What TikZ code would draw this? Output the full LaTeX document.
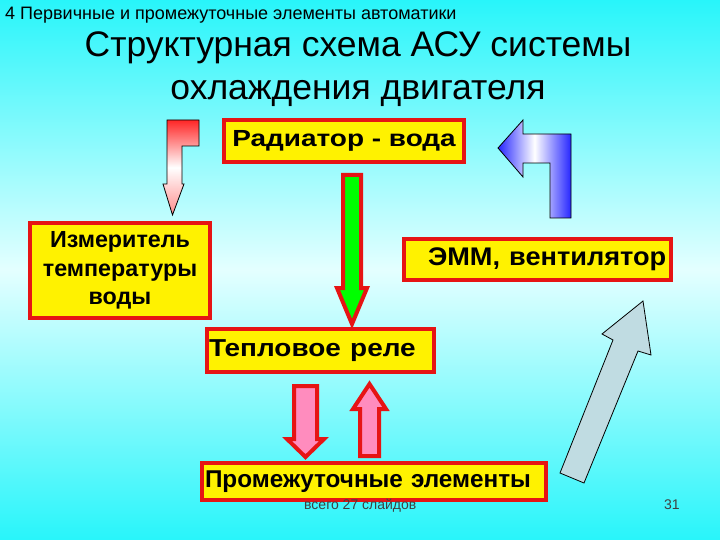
\documentclass[tikz,border=0pt]{standalone}
\usepackage{fontspec}
\setmainfont{Liberation Sans}
\newcommand{\stretchx}[2]{\scalebox{#1}[1]{#2}}
\begin{document}
\begin{tikzpicture}[x=1pt,y=-1pt,
  box/.style={draw=boxred, line width=4pt, fill=yellow, inner sep=2pt, font=\fontsize{24}{28}\selectfont\bfseries},
  redarrow/.style={draw=boxred, line width=4pt, fill=pinkfill, line join=miter},
  every node/.style={inner sep=0pt}]
\definecolor{boxred}{RGB}{230,20,20}
\definecolor{pinkfill}{RGB}{255,140,190}
\definecolor{bgcyan}{RGB}{40,245,250}
\definecolor{bglight}{RGB}{228,255,255}
\definecolor{arrowgray}{RGB}{192,220,226}
\useasboundingbox (0,0) rectangle (720,540);
\shade[top color=bgcyan, bottom color=bgcyan, middle color=bglight] (0,0) rectangle (720,540);

% header and title
\node[anchor=base west, font=\fontsize{18}{21}\selectfont] (hdr) at (5,20) {4 Первичные и промежуточные элементы автоматики};
\node[align=center, font=\fontsize{35.5}{43}\selectfont] (ttl) at (358,69) {Структурная схема АСУ системы\\охлаждения двигателя};

% boxes
\node[box, minimum width=240, minimum height=42, font=\fontsize{23.3}{28}\selectfont\bfseries] (rad) at (344,141) {\stretchx{1.2}{Радиатор - вода}};
\node[box, minimum width=180, minimum height=95, align=center, font=\fontsize{23.3}{28.5}\selectfont\bfseries] (izm) at (120,270.5) {\raisebox{-1.5pt}{\parbox{176pt}{\centering Измеритель\\температуры\\воды}}};
\node[box, minimum width=267, minimum height=41, text width=259, align=left, font=\fontsize{25.5}{30}\selectfont\bfseries] (emm) at (537.5,259.5) {\hspace*{20pt}\stretchx{1.065}{ЭММ, вентилятор}};
\node[box, minimum width=227, minimum height=43, text width=223, align=left, font=\fontsize{24.5}{29}\selectfont\bfseries] (tep) at (320.5,350.5) {\stretchx{1.14}{Тепловое реле}};
\node[box, minimum width=344, minimum height=37, text width=338, align=left, font=\fontsize{24.3}{29}\selectfont\bfseries] (prom) at (374,481.5) {Промежуточные элементы};

% green arrow
\draw[draw=boxred, line width=4pt, fill=green, line join=miter]
  (343,175) -- (361,175) -- (361,288) -- (367,288) -- (352,324) -- (337,288) -- (343,288) -- cycle;

% pink arrows
\draw[redarrow] (294,386) -- (317,386) -- (317,439) -- (324,439) -- (305.5,457) -- (287,439) -- (294,439) -- cycle;
\draw[redarrow] (360,456) -- (379,456) -- (379,409) -- (386,409) -- (369.5,384) -- (353,409) -- (360,409) -- cycle;

% red bent arrow
\shade[top color=red!85, bottom color=red!45, middle color=white]
  (167,120) -- (199,120) -- (199,146) -- (182,146) -- (182,184) -- (184,184) -- (172.5,215) -- (163,184) -- (167,184) -- cycle;
\draw[line width=0.8pt]
  (167,120) -- (199,120) -- (199,146) -- (182,146) -- (182,184) -- (184,184) -- (172.5,215) -- (163,184) -- (167,184) -- cycle;

% blue bent arrow
\shade[left color=blue!85, right color=blue!85, middle color=white]
  (498,148) -- (523,120) -- (523,134) -- (571,134) -- (571,218) -- (550,218) -- (550,163) -- (523,163) -- (523,177) -- cycle;
\draw[line width=0.8pt]
  (498,148) -- (523,120) -- (523,134) -- (571,134) -- (571,218) -- (550,218) -- (550,163) -- (523,163) -- (523,177) -- cycle;

% gray arrow
\draw[line width=0.8pt, fill=arrowgray]
  (560,473) -- (613,340) -- (602,334) -- (643,301) -- (651,355) -- (638,351) -- (584,483) -- cycle;

% footer
\node[anchor=base west, font=\fontsize{14}{16}\selectfont, text=black!75] (ftr) at (304,509) {всего 27 слайдов};
\node[anchor=base west, font=\fontsize{14}{16}\selectfont, text=black!75] (pg) at (664,509) {31};
\end{tikzpicture}
\end{document}
